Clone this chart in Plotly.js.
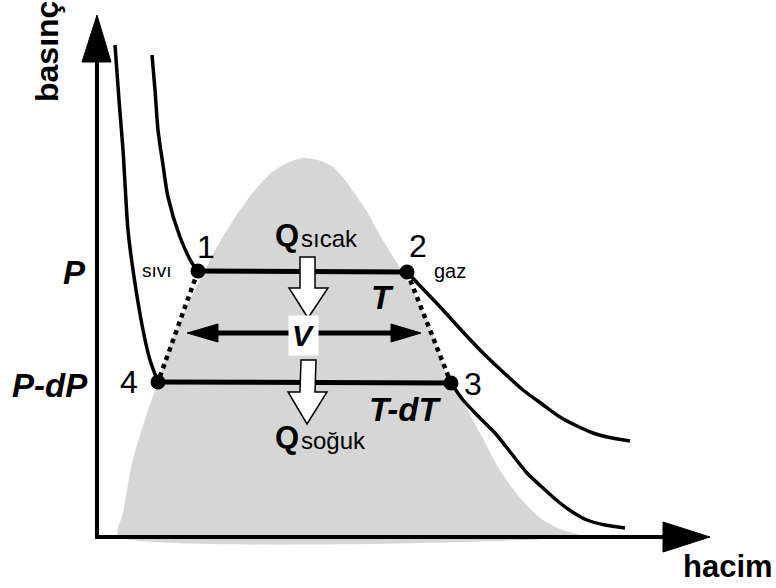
<!DOCTYPE html>
<html>
<head>
<meta charset="utf-8">
<script src="https://cdn.plot.ly/plotly-3.0.1.min.js"></script>
<style>html,body{margin:0;padding:0;background:#fff;}#chart{width:776px;height:588px;}</style>
</head>
<body>
<div id="chart"></div>
<script>
// Schematic P–V diagram (coordinates in diagram units; y grows downward on the reversed axis)
// Two-phase dome (liquid-vapour region)
const domeV = [118,123,132,147,158,172,190,205,215,227,240,255,270,287,303,318,333,345,357,368,377,387,397,407,418,430,440,450,462,480,498,510,522,540,560,582,118];
const domeP = [536,513,463,413,382,340,300,270,250,230,210,190,174,163,158,160,167,180,197,213,230,247,263,280,300,327,355,383,400,433,467,485,500,518,529,536,536];

// Isotherm T (hot): liquid branch, plateau, gas branch
const isoT_liqV = [152,155,158,163,168,180,192,198];
const isoT_liqP = [55,90,130,165,197,237,263,271];
const isoT_gasV = [407,425,443,463,483,503,523,542,560,577,593,612,630];
const isoT_gasP = [272,291,310,332,353,372,390,404,417,426,433,438,441];

// Isotherm T-dT (cold)
const isoC_liqV = [115,119,123,128,133,143,150,158];
const isoC_liqP = [45,100,150,230,270,330,360,382];
const isoC_gasV = [451,463,478,495,511,527,544,560,574,587,605,625];
const isoC_gasP = [383,400,416,433,453,473,489,503,513,520,525,528];

// State points 1..4
const ptLabels = ['1','2','3','4'];
const ptV = [198,407,451,158];
const ptP = [271,272,383,382];

// Text labels
const pressureTicks = ['P','P-dP'];
const pressureTickP = [272,385];

const traces = [];
traces.push({x:domeV,y:domeP,mode:'lines',fill:'toself',fillcolor:'#d6d6d6',line:{width:0,color:'#d6d6d6',shape:'spline',smoothing:0.6},hoverinfo:'skip'});
// dotted dome-edge connectors 1-4 and 2-3
traces.push({x:[ptV[0],ptV[3]],y:[ptP[0],ptP[3]],mode:'lines',line:{color:'#000',width:4.5,dash:'dot'},hoverinfo:'skip'});
traces.push({x:[ptV[1],ptV[2]],y:[ptP[1],ptP[2]],mode:'lines',line:{color:'#000',width:4.5,dash:'dot'},hoverinfo:'skip'});
// isotherm branches
[[isoT_liqV,isoT_liqP],[isoT_gasV,isoT_gasP],[isoC_liqV,isoC_liqP],[isoC_gasV,isoC_gasP]].forEach(function(b){
  traces.push({x:b[0],y:b[1],mode:'lines',line:{color:'#000',width:3.5,shape:'spline',smoothing:0.8},hoverinfo:'skip'});
});
// plateaus 1-2 and 4-3
traces.push({x:[ptV[0],ptV[1]],y:[ptP[0],ptP[1]],mode:'lines',line:{color:'#000',width:5},hoverinfo:'skip'});
traces.push({x:[ptV[3],ptV[2]],y:[ptP[3],ptP[2]],mode:'lines',line:{color:'#000',width:5},hoverinfo:'skip'});
// state points
traces.push({x:ptV,y:ptP,mode:'markers',marker:{color:'#000',size:15},hoverinfo:'skip'});

const shapes = [
  // axes
  {type:'line',xref:'x',yref:'y',x0:97,x1:97,y0:538,y1:58,line:{color:'#000',width:4},layer:'above'},
  {type:'line',xref:'x',yref:'y',x0:95,x1:668,y0:537,y1:537,line:{color:'#000',width:4},layer:'above'},
  {type:'path',xref:'x',yref:'y',path:'M82,62 L97,15 L111,62 Z',fillcolor:'#000',line:{color:'#000',width:1},layer:'above'},
  {type:'path',xref:'x',yref:'y',path:'M663,522 L710,537 L663,552 Z',fillcolor:'#000',line:{color:'#000',width:1},layer:'above'},
  // double arrow V
  {type:'line',xref:'x',yref:'y',x0:212,x1:396,y0:333,y1:333,line:{color:'#000',width:5},layer:'above'},
  {type:'path',xref:'x',yref:'y',path:'M187,333 L218,324 L218,342 Z',fillcolor:'#000',line:{color:'#000',width:1},layer:'above'},
  {type:'path',xref:'x',yref:'y',path:'M421,333 L391,324 L391,342 Z',fillcolor:'#000',line:{color:'#000',width:1},layer:'above'},
  // heat arrows
  {type:'path',xref:'x',yref:'y',path:'M300,257 L315,257 L315,288 L328,288 L308,318 L289,288 L300,288 Z',fillcolor:'#fff',line:{color:'#000',width:1.5},layer:'above'},
  {type:'path',xref:'x',yref:'y',path:'M301,360 L316,360 L315,392 L327,392 L307,424 L288,392 L300,392 Z',fillcolor:'#fff',line:{color:'#000',width:1.5},layer:'above'}
];

const F = 'Liberation Sans, Arial, sans-serif';
function ann(text,x,y,size,opts){
  return Object.assign({text:text,x:x,y:y,xref:'x',yref:'y',showarrow:false,font:{family:F,size:size,color:'#000'},xanchor:'center',yanchor:'middle'},opts||{});
}
const annotations = [
  ann('<b>basınç</b>',47,52,32,{textangle:-90}),
  ann('<b>hacim</b>',728,566,31),
  ann('<b><i>'+pressureTicks[0]+'</i></b>',74,pressureTickP[0],33),
  ann('<b><i>'+pressureTicks[1]+'</i></b>',50,pressureTickP[1],33),
  ann(ptLabels[0],206,247,32),
  ann(ptLabels[1],418,246,32),
  ann(ptLabels[2],473,384,32),
  ann(ptLabels[3],129,382,32),
  ann('sıvı',157,270,19),
  ann('gaz',450,271,20),
  ann('<b><i>T</i></b>',382,297,33),
  ann('<b><i>T-dT</i></b>',405,409,33),
  ann('<b><i>V</i></b>',303,335,30,{bgcolor:'#fff',borderpad:3}),
  ann('<b>Q</b>',301,235,31,{xanchor:'right'}),
  ann('sıcak',299,238,24,{xanchor:'left'}),
  ann('<b>Q</b>',301,437,31,{xanchor:'right'}),
  ann('soğuk',299,440,24,{xanchor:'left'})
];

const layout = {
  width:776,height:588,margin:{l:0,r:0,t:0,b:0},
  paper_bgcolor:'#fff',plot_bgcolor:'#fff',showlegend:false,
  xaxis:{range:[0,776],visible:false,fixedrange:true},
  yaxis:{range:[588,0],visible:false,fixedrange:true},
  shapes:shapes,annotations:annotations
};
Plotly.newPlot('chart',traces,layout,{staticPlot:true,displayModeBar:false});
</script>
</body>
</html>
